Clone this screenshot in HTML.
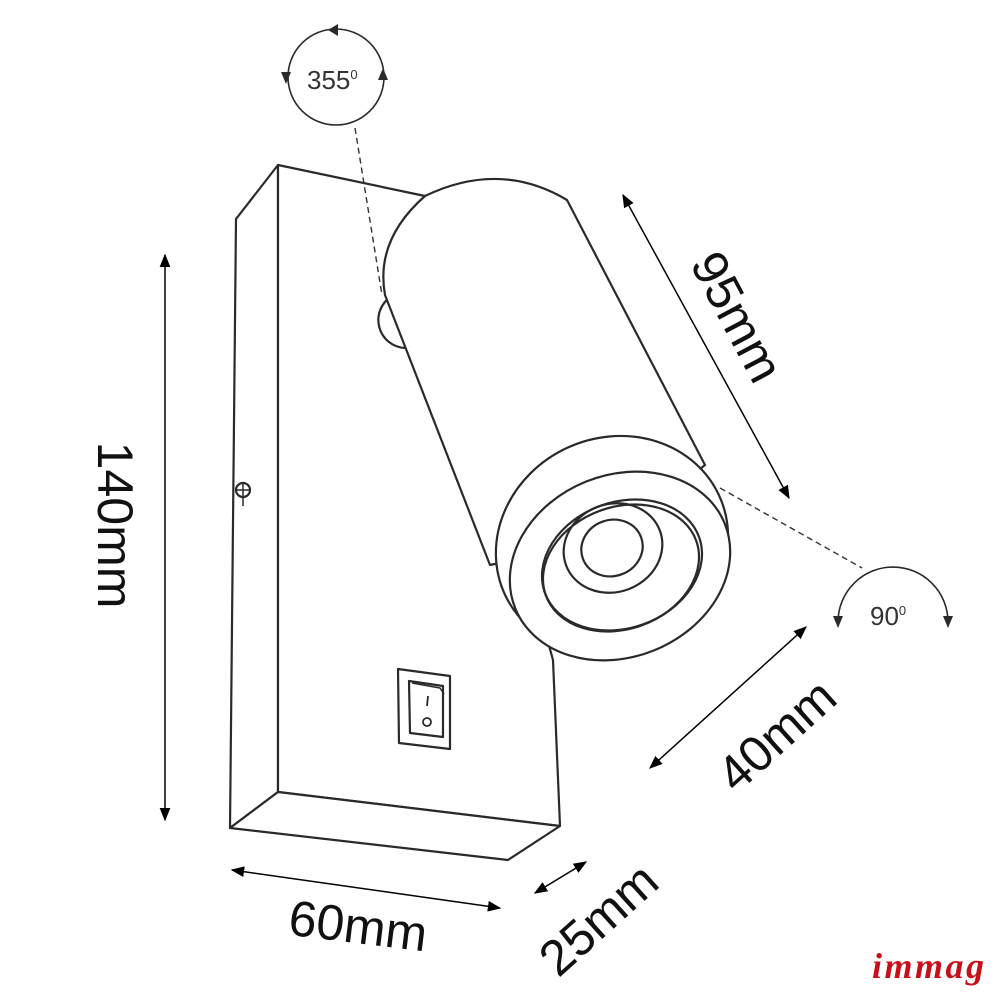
<!DOCTYPE html>
<html><head><style>body{margin:0;background:#fff}svg{display:block}</style></head><body>
<svg width="1000" height="1000" viewBox="0 0 1000 1000" xmlns="http://www.w3.org/2000/svg" font-family="Liberation Sans, sans-serif">
<defs><marker id="a" viewBox="0 0 10 10" refX="9" refY="5" markerWidth="9" markerHeight="9" orient="auto-start-reverse"><path d="M0,1 L10,5 L0,9z" fill="#000"/></marker></defs>
<g fill="none" stroke="#2a2a2a" stroke-width="2.2" stroke-linejoin="round">
<!-- box -->
<path d="M278,165 L236,219 L230,828 L278,792 L278,165 Z" fill="#fff"/>
<path d="M278,165 L425,196 L553,660 L560,826 L278,792 Z" fill="#fff"/>
<path d="M230,828 L508,860 L560,826 L278,792 Z" fill="#fff"/>
<!-- knob -->
<path d="M392,296 A28,28 0 0 0 405,348" fill="#fff"/>
<!-- cylinder body -->
<path d="M425,196 Q500,160 567,200 L705,465 L610,540 L490,565 L385,295 Q375,240 425,196 Z" fill="#fff"/>
<ellipse cx="612" cy="545" rx="118" ry="107" transform="rotate(-25 612 545)" fill="#fff"/>
<ellipse cx="620" cy="566" rx="113" ry="91" transform="rotate(-22 620 566)" fill="#fff"/>
<ellipse cx="622" cy="565" rx="82" ry="63" transform="rotate(-20 622 565)"/>
<ellipse cx="621" cy="568" rx="80" ry="61" transform="rotate(-20 621 568)"/>
<ellipse cx="613" cy="548" rx="50" ry="44" transform="rotate(-20 613 548)"/>
<ellipse cx="612" cy="548" rx="31" ry="28" transform="rotate(-20 612 548)"/>
<!-- screw -->
<circle cx="243" cy="490" r="7"/>
<path d="M243,482 L243,506 M237,490 L249,490" stroke-width="1.5"/>
<!-- switch -->
<path d="M398,669 L450,676 L450,749 L399,743 Z"/>
<path d="M409,681 L443,686 L443,737 L410,733 Z"/>
<path d="M412,683 L440,688 L444,694" stroke-width="1.5"/>
<path d="M428,696 L427,706" stroke-width="1.8"/>
<circle cx="427" cy="722" r="4" stroke-width="1.8"/>
<!-- rotation -->
<circle cx="336" cy="77" r="48" stroke-width="1.6"/>
<path d="M838,622 A55,55 0 0 1 948,622" stroke-width="1.6"/>
</g>
<g fill="#2a2a2a">
<path d="M328,30 L338,24 L338,36z"/><path d="M281,72 L291,72 L286,84z"/><path d="M378,80 L388,80 L383,68z"/>
<path d="M833,616 L843,616 L838,628z"/><path d="M943,616 L953,616 L948,628z"/>
</g>
<g stroke="#333" stroke-width="1.4" stroke-dasharray="6,4" fill="none">
<path d="M355,128 L382,295"/><path d="M720,488 L862,568"/>
</g>
<g stroke="#000" stroke-width="1.5" fill="none">
<path d="M165,255 L165,820" marker-start="url(#a)" marker-end="url(#a)"/>
<path d="M623,195 L789,498" marker-start="url(#a)" marker-end="url(#a)"/>
<path d="M806,627 L650,768" marker-start="url(#a)" marker-end="url(#a)"/>
<path d="M232,870 L500,908" marker-start="url(#a)" marker-end="url(#a)"/>
<path d="M586,862 L535,893" marker-start="url(#a)" marker-end="url(#a)"/>
</g>
<g fill="#111" font-size="50">
<text transform="translate(98,525) rotate(90)" text-anchor="middle">140mm</text>
<text transform="translate(722,325) rotate(62)" text-anchor="middle">95mm</text>
<text transform="translate(788,748) rotate(-42)" text-anchor="middle">40mm</text>
<text transform="translate(356,943) rotate(7)" text-anchor="middle">60mm</text>
<text transform="translate(610,932) rotate(-42)" text-anchor="middle">25mm</text>
</g>
<text x="307" y="89" font-size="26" fill="#333">355<tspan font-size="13" dy="-10">0</tspan></text>
<text x="870" y="625" font-size="26" fill="#333">90<tspan font-size="13" dy="-10">0</tspan></text>
<text x="872" y="978" font-size="36" font-weight="bold" font-style="italic" font-family="Liberation Serif, serif" fill="#c8101a" textLength="112">immag</text>
</svg>
</body></html>
